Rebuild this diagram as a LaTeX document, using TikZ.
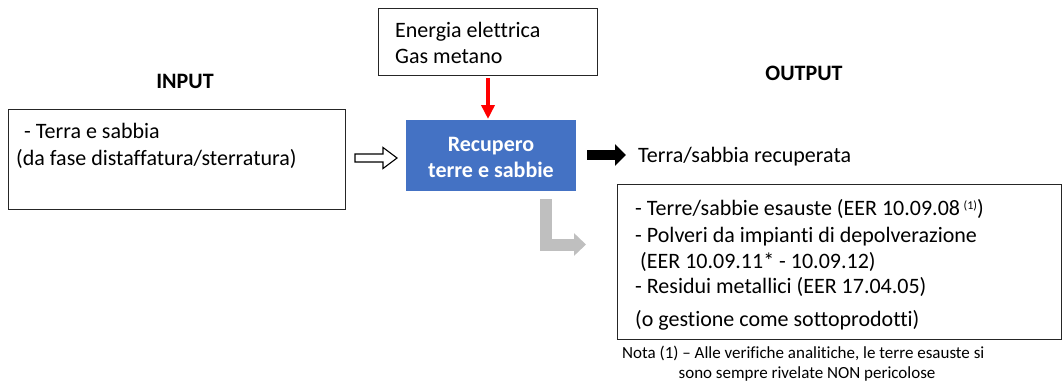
\documentclass[tikz,border=0pt]{standalone}
\usepackage{fontspec}
\setmainfont{Carlito}[Ligatures={NoCommon,NoContextual}]
\usetikzlibrary{arrows.meta,calc}
\definecolor{blu}{HTML}{4472C4}
\definecolor{grigio}{HTML}{BFBFBF}
\definecolor{rosso}{HTML}{FF0000}
\begin{document}
\begin{tikzpicture}[x=1pt,y=-1pt,
  frame/.style={draw=black!85, line width=0.9pt, inner sep=0pt, anchor=north west},
  txt/.style={anchor=base west, inner sep=0pt, font=\fontsize{22}{26}\selectfont},
  ctxt/.style={anchor=base, inner sep=0pt, font=\fontsize{22}{26}\selectfont\bfseries, text=white},
  head/.style={anchor=base, inner sep=0pt, font=\fontsize{22}{26}\selectfont\bfseries},
  nota/.style={inner sep=0pt, font=\fontsize{17}{19}\selectfont},
]
\useasboundingbox (0,0) rectangle (1062,383);

% boxes
\node[frame, minimum width=219pt, minimum height=67pt] (energy) at (378,8) {};
\node[frame, minimum width=337pt, minimum height=100pt] (inbox) at (8,109) {};
\node[anchor=north west, fill=blu, inner sep=0pt, minimum width=170pt, minimum height=71pt] (proc) at (406,120) {};
\node[frame, minimum width=444pt, minimum height=155pt] (outbox) at (617,184) {};

% texts
\node[txt] (e1) at (395,37) {Energia elettrica};
\node[txt] (e2) at (395,63) {Gas metano};
\node[head] (inhead) at (185,88) {INPUT};
\node[head] (outhead) at (804,80) {OUTPUT};
\node[txt] (i1) at (24,138) {- Terra e sabbia};
\node[txt] (i2) at (16,165) {(da fase distaffatura/sterratura)};
\node[ctxt] (p1) at (491,151) {Recupero};
\node[ctxt] (p2) at (491,177) {terre e sabbie};
\node[txt] (rec) at (638,162) {Terra/sabbia recuperata};
\node[txt] (o1) at (635,215) {- Terre/sabbie esauste (EER 10.09.08\,\raisebox{0.55ex}{\fontsize{12}{14}\selectfont(1)})};
\node[txt] (o2) at (635,242) {- Polveri da impianti di depolverazione};
\node[txt] (o3) at (640,268) {(EER 10.09.11* - 10.09.12)};
\node[txt] (o4) at (635,293) {- Residui metallici (EER 17.04.05)};
\node[txt] (o5) at (635,326) {(o gestione come sottoprodotti)};
\node[nota, anchor=base west] (n1) at (622,358) {Nota (1) -- Alle verifiche analitiche, le terre esauste si};
\node[nota, anchor=base] (n2) at (807,378) {sono sempre rivelate NON pericolose};

% hollow input arrow
\coordinate (ha) at (355,158);
\draw[black, line width=1.1pt, fill=white, line join=miter]
  ($(ha)+(0,-4)$) -- ++(28,0) -- ++(0,-6.5) -- ++(14,10.5) -- ++(-14,10.5) -- ++(0,-6.5) -- ++(-28,0) -- cycle;

% red energy arrow
\coordinate (ra) at (488,78);
\coordinate (rb) at (488,119);
\draw[rosso, line width=3.5pt, -{Triangle[length=14pt,width=13pt]}] (ra) -- (rb);

% black output arrow
\coordinate (ba) at (587,155);
\coordinate (bb) at (626,155);
\draw[black, line width=10pt, -{Triangle[length=11pt,width=21pt]}] (ba) -- (bb);

% gray waste arrow
\coordinate (ga) at (546,199);
\coordinate (gb) at (586,244.5);
\draw[grigio, line width=12pt, line join=miter, -{Triangle[length=12pt,width=22pt]}] (ga) |- (gb);

\end{tikzpicture}
\end{document}
